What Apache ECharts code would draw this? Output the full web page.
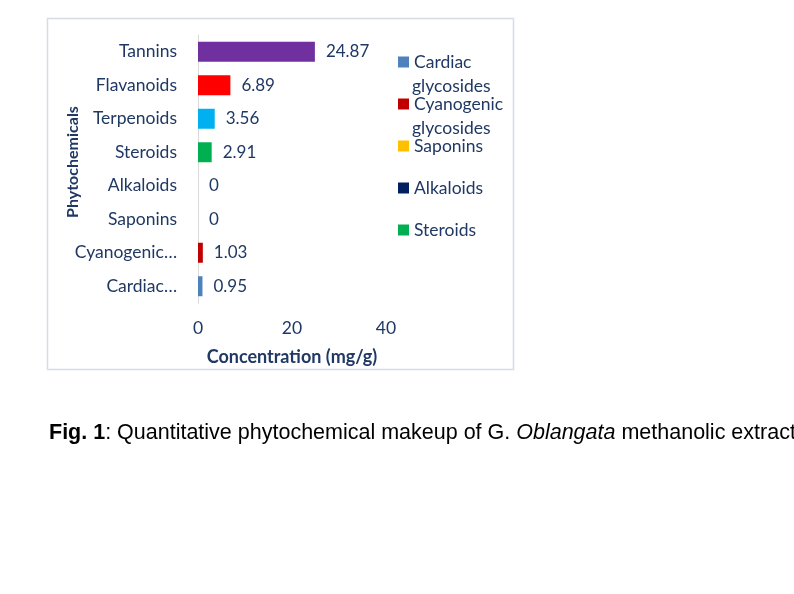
<!DOCTYPE html>
<html>
<head>
<meta charset="utf-8">
<script src="https://cdn.jsdelivr.net/npm/echarts@6/dist/echarts.min.js"></script>
<style>
  html, body { margin: 0; padding: 0; background: #fff; }
  #chart { width: 794px; height: 594px; }
</style>
</head>
<body>
<div id="chart"></div>
<script>
// ── Data ────────────────────────────────────────────────────────────────
const categories = ['Cardiac glycosides', 'Cyanogenic glycosides', 'Saponins', 'Alkaloids',
                    'Steroids', 'Terpenoids', 'Flavanoids', 'Tannins'];
const tickLabels = ['Cardiac…', 'Cyanogenic…', 'Saponins', 'Alkaloids',
                    'Steroids', 'Terpenoids', 'Flavanoids', 'Tannins'];
const values = [0.95, 1.03, 0, 0, 2.91, 3.56, 6.89, 24.87];
const legendNames = ['Cardiac glycosides', 'Cyanogenic glycosides', 'Saponins', 'Alkaloids', 'Steroids'];
const xTicks = [0, 20, 40];

// ── Style ───────────────────────────────────────────────────────────────
const COLORS = ['#4F81BD', '#C00000', '#FFC000', '#002060', '#00B050', '#00B0F0', '#FF0000', '#7030A0'];
const INK = '#1F3864';
const FONT = 'Lato';
const FS = 17.5;
const LEGEND_Y = [62, 104, 146, 188, 230];   // centre of first text line
const LEGEND_X = 398;

// one stacked series per category so each bar can have its own legend entry
const series = categories.map((name, i) => ({
  name,
  type: 'bar',
  stack: 'all',
  barWidth: 20,
  itemStyle: { color: COLORS[i] },
  label: {
    show: true,
    position: 'right',
    distance: 11,
    color: INK,
    fontFamily: FONT,
    fontSize: 17
  },
  data: categories.map((_, j) => (j === i ? values[i] : '-'))
}));

const legends = legendNames.map((name, k) => ({
  data: [name],
  left: LEGEND_X,
  top: LEGEND_Y[k] - 11,
  padding: 0,
  itemWidth: 11,
  itemHeight: 11,
  itemGap: 0,
  icon: 'rect',
  selectedMode: false,
  formatter: n => n.split(' ')[0],
  textStyle: { color: INK, fontFamily: FONT, fontSize: FS, lineHeight: 22 }
}));

// second word of wrapped legend names
const legendWrap = [];
legendNames.forEach((name, k) => {
  const rest = name.split(' ').slice(1).join(' ');
  if (rest) {
    legendWrap.push({
      type: 'text', x: LEGEND_X + 14, y: LEGEND_Y[k] + 24,
      style: { text: rest, fill: INK, font: FS + 'px ' + FONT, verticalAlign: 'middle' }
    });
  }
});

const chart = echarts.init(document.getElementById('chart'), null, { renderer: 'canvas' });
chart.setOption({
  backgroundColor: '#fff',
  animation: false,
  grid: { left: 198, right: 408, top: 35, bottom: 291 },
  legend: legends,
  xAxis: {
    type: 'value',
    min: xTicks[0],
    max: xTicks[xTicks.length - 1],
    interval: 20,
    name: 'Concentration (mg/g)',
    nameLocation: 'middle',
    nameGap: 45,
    nameTextStyle: { color: INK, fontFamily: FONT, fontSize: 18, fontWeight: 'bold' },
    axisLine: { show: false },
    axisTick: { show: false },
    splitLine: { show: false },
    axisLabel: { color: INK, fontFamily: FONT, fontSize: FS, margin: 16 }
  },
  yAxis: {
    type: 'category',
    data: tickLabels,
    name: 'Phytochemicals',
    nameLocation: 'middle',
    nameGap: 117,
    nameMoveOverlap: false,
    nameTextStyle: { color: INK, fontFamily: FONT, fontSize: 16, fontWeight: 'bold', padding: [0, 0, 0, 14] },
    axisLine: { show: true, lineStyle: { color: '#D9D9D9', width: 1 } },
    axisTick: { show: false },
    axisLabel: { color: INK, fontFamily: FONT, fontSize: FS, margin: 21 }
  },
  series,
  graphic: [
    {
      type: 'rect', silent: true,
      shape: { x: 47.5, y: 18.5, width: 466, height: 351 },
      style: { fill: 'none', stroke: '#D6DCE5', lineWidth: 1.5 }
    },
    ...legendWrap,
    {
      type: 'text', x: 49, y: 433,
      style: {
        text: '{b|Fig. 1}: Quantitative phytochemical makeup of G. {i|Oblangata} methanolic extract',
        font: '21.5px "Liberation Sans"',
        fill: '#000',
        verticalAlign: 'middle',
        rich: {
          b: { fontWeight: 'bold', fontFamily: 'Liberation Sans', fontSize: 21.5, fill: '#000' },
          i: { fontStyle: 'italic', fontFamily: 'Liberation Sans', fontSize: 21.5, fill: '#000' }
        }
      }
    }
  ]
});
</script>
</body>
</html>
